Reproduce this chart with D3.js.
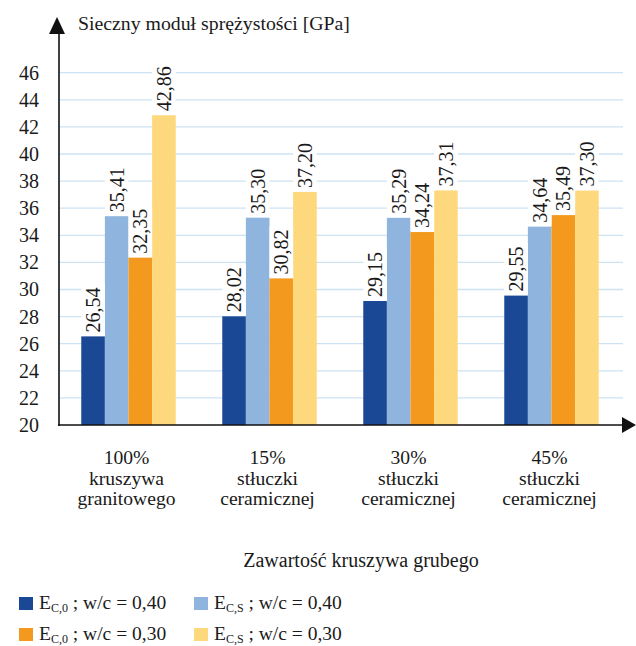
<!DOCTYPE html>
<html>
<head>
<meta charset="utf-8">
<script src="https://cdn.jsdelivr.net/npm/d3@7"></script>
<style>
  html, body { margin: 0; padding: 0; background: #fff; }
  svg { display: block; }
</style>
</head>
<body>
<svg id="chart" width="636" height="646"></svg>
<script>
// Category labels (three lines each)
const categories = ["100% granit", "15% ceram", "30% ceram", "45% ceram"];
const categoryLines = [
  ["100%", "kruszywa", "granitowego"],
  ["15%", "stłuczki", "ceramicznej"],
  ["30%", "stłuczki", "ceramicznej"],
  ["45%", "stłuczki", "ceramicznej"]
];

// Secant modulus values [GPa]
const ec0_040 = [26.54, 28.02, 29.15, 29.55];
const ecs_040 = [35.41, 35.30, 35.29, 34.64];
const ec0_030 = [32.35, 30.82, 34.24, 35.49];
const ecs_030 = [42.86, 37.20, 37.31, 37.30];

const seriesKeys = ["ec0_040", "ecs_040", "ec0_030", "ecs_030"];
const seriesValues = [ec0_040, ecs_040, ec0_030, ecs_030];
const seriesColors = ["#1b4894", "#8fb4de", "#f39a1e", "#fed87c"];
const seriesSub = ["C,0", "C,S", "C,0", "C,S"];
const seriesWc = ["0,40", "0,40", "0,30", "0,30"];

const yTicks = [20, 22, 24, 26, 28, 30, 32, 34, 36, 38, 40, 42, 44, 46];

const SERIF = "Liberation Serif";
const INK = "#1a1a1a";
const fmt = v => v.toFixed(2).replace(".", ",");

const svg = d3.select("#chart");

// Every text gets the serif face set both as attribute and inline style
function serif(sel, size) {
  return sel.attr("font-family", SERIF).style("font-family", SERIF)
    .attr("font-size", size).style("font-size", size + "px").attr("fill", INK);
}

const x0 = d3.scaleBand().domain(categories).range([58, 622])
  .paddingInner(0.33).paddingOuter(0.165);
const x1 = d3.scaleBand().domain(seriesKeys).range([0, x0.bandwidth()]);
const y = d3.scaleLinear().domain([20, 46]).range([425, 72.7]);

// Horizontal gridlines
svg.append("g").selectAll("line")
  .data(yTicks.filter(t => t > 20))
  .join("line")
  .attr("x1", 59).attr("x2", 623)
  .attr("y1", d => y(d)).attr("y2", d => y(d))
  .attr("stroke", "#cde2f3").attr("stroke-width", 1.3);

// Y axis tick labels
const yAxis = d3.axisLeft(y).tickValues(yTicks).tickSize(0).tickPadding(20);
const gy = svg.append("g").attr("transform", "translate(59,0)").call(yAxis);
gy.attr("font-family", SERIF).attr("font-size", 20);
gy.select(".domain").remove();
serif(gy.selectAll("text"), 20);

// Bars
const groups = svg.append("g").selectAll("g")
  .data(categories)
  .join("g")
  .attr("transform", d => `translate(${x0(d)},0)`);

groups.selectAll("rect.bar")
  .data((d, i) => seriesKeys.map((k, s) => ({ key: k, s, value: seriesValues[s][i] })))
  .join("rect")
  .attr("class", "bar")
  .attr("x", d => x1(d.key))
  .attr("width", x1.bandwidth())
  .attr("y", d => y(d.value))
  .attr("height", d => y(20) - y(d.value))
  .attr("fill", d => seriesColors[d.s]);

// Rotated value labels on white boxes
const labels = groups.selectAll("g.lbl")
  .data((d, i) => seriesKeys.map((k, s) => ({ key: k, s, value: seriesValues[s][i] })))
  .join("g")
  .attr("class", "lbl")
  .attr("transform", d => `translate(${x1(d.key) + x1.bandwidth() / 2},${y(d.value) - 3}) rotate(-90)`);

labels.each(function (d) {
  const g = d3.select(this);
  const rect = g.append("rect").attr("fill", "#fff");
  const t = serif(g.append("text"), 20)
    .attr("x", 1).attr("dy", "0.35em")
    .text(fmt(d.value));
  const len = t.node().getComputedTextLength();
  rect.attr("x", -2).attr("y", -x1.bandwidth() / 2)
    .attr("width", len + 6).attr("height", x1.bandwidth());
});

// Axes with arrowheads
svg.append("line").attr("x1", 59).attr("x2", 59).attr("y1", 30).attr("y2", 426)
  .attr("stroke", "#111").attr("stroke-width", 1.6);
svg.append("path").attr("d", "M49,34 L57,17 L65,34 Z").attr("fill", "#111");
svg.append("line").attr("x1", 58).attr("x2", 625).attr("y1", 425).attr("y2", 425)
  .attr("stroke", "#111").attr("stroke-width", 1.6);
svg.append("path").attr("d", "M622,417 L636,425 L622,433 Z").attr("fill", "#111");

// Axis title
serif(svg.append("text"), 19.8).attr("x", 78).attr("y", 30)
  .text("Sieczny moduł sprężystości [GPa]");

// Category labels
const cat = serif(svg.append("g").selectAll("text")
  .data(categories)
  .join("text"), 19.6)
  .attr("text-anchor", "middle")
  .attr("transform", d => `translate(${x0(d) + x0.bandwidth() / 2 - 2},0)`);
cat.selectAll("tspan")
  .data((d, i) => categoryLines[i])
  .join("tspan")
  .attr("x", 0)
  .attr("y", (d, j) => 464 + j * 20.5)
  .text(d => d);

// X axis title
serif(svg.append("text"), 20).attr("x", 361).attr("y", 567)
  .attr("text-anchor", "middle")
  .text("Zawartość kruszywa grubego");

// Legend
const legendPos = [[19, 609], [194, 609], [19, 640], [194, 640]];
const leg = svg.append("g").selectAll("g")
  .data(seriesKeys)
  .join("g")
  .attr("transform", (d, i) => `translate(${legendPos[i][0]},${legendPos[i][1]})`);
leg.append("rect").attr("x", 0).attr("y", -12).attr("width", 14).attr("height", 13)
  .attr("fill", (d, i) => seriesColors[i]);
const lt = serif(leg.append("text"), 19.5).attr("x", 20);
lt.append("tspan").text("E");
lt.append("tspan").attr("font-size", 12).style("font-size", "12px").attr("dy", 3).text((d, i) => seriesSub[i]);
lt.append("tspan").attr("dy", -3).text((d, i) => ` ; w/c = ${seriesWc[i]}`);
</script>
</body>
</html>
